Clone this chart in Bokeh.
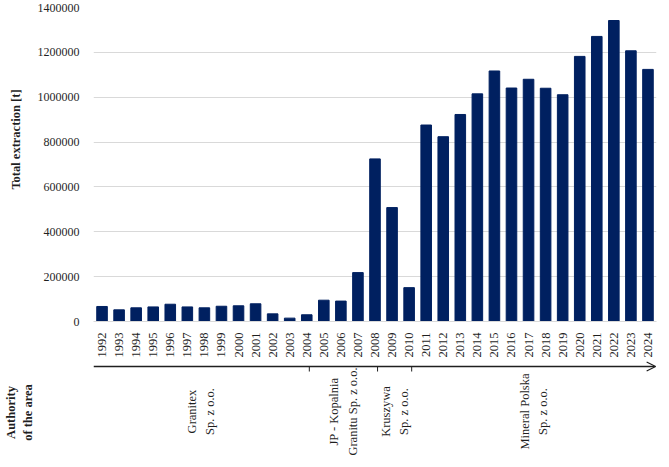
import math
from bokeh.plotting import figure
from bokeh.models import (FactorRange, Range1d, FixedTicker, NumeralTickFormatter,
                          Arrow, OpenHead)
from bokeh.layouts import column, row
from bokeh.core.properties import value
from bokeh.embed import file_html
from bokeh.resources import INLINE

# ---------------- data ----------------
years = [str(y) for y in range(1992, 2025)]
extraction = [67000, 52000, 61000, 65000, 77000, 65000, 61000, 68000, 70000, 79000,
              34000, 15000, 30000, 95000, 91000, 218000, 725000, 508000, 151000,
              876000, 824000, 923000, 1015000, 1117000, 1041000, 1080000, 1040000,
              1011000, 1182000, 1271000, 1342000, 1207000, 1124000]
y_ticks = [0, 200000, 400000, 600000, 800000, 1000000, 1200000, 1400000]
authorities = ["Granitex\nSp. z o.o.",
               "JP - Kopalnia\nGranitu Sp. z o.o.",
               "Kruszywa\nSp. z o.o.",
               "Mineral Polska\nSp. z o.o."]
boundary_years = ["2004", "2008", "2010"]
y_title = "Total extraction [t]"
band_title = "Authority\nof the area"

# ---------------- layout / styling ----------------
FONT = "Liberation Serif"
BAR = "#002060"
TXT = "#1f1f1f"
GRID = "#d9d9d9"
TOTAL_W, TOTAL_H = 659, 457
LW = 34                      # left title strip
W = TOTAL_W - LW
LEFT, RIGHT = 53, 3
H1, TOP1, BOTTOM1 = 360, 7, 38
H2 = TOTAL_H - H1

x_range = FactorRange(factors=years, range_padding=0)

p1 = figure(width=W, height=H1, x_range=x_range, y_range=Range1d(0, 1400000),
            output_backend="svg", toolbar_location=None,
            min_border_left=LEFT, min_border_right=RIGHT,
            min_border_top=TOP1, min_border_bottom=BOTTOM1)
p1.vbar(x=years, top=extraction, width=0.62, color=BAR)

p1.outline_line_color = None
p1.xgrid.grid_line_color = None
p1.ygrid.grid_line_color = GRID
p1.ygrid.ticker = FixedTicker(ticks=y_ticks)

p1.yaxis.ticker = FixedTicker(ticks=y_ticks)
p1.yaxis.formatter = NumeralTickFormatter(format="0")
p1.yaxis.axis_line_color = None
p1.yaxis.major_tick_line_color = None
p1.yaxis.minor_tick_line_color = None
p1.yaxis.major_label_standoff = 8
p1.yaxis.major_label_text_font = FONT
p1.yaxis.major_label_text_font_size = "12px"
p1.yaxis.major_label_text_color = TXT

p1.xaxis.axis_line_color = GRID
p1.xaxis.major_tick_line_color = None
p1.xaxis.minor_tick_line_color = None
p1.xaxis.major_label_orientation = math.pi / 2
p1.xaxis.major_label_standoff = 5
p1.xaxis.major_label_text_font = FONT
p1.xaxis.major_label_text_font_size = "12.5px"
p1.xaxis.major_label_text_color = TXT

# ---------------- authority band ----------------
p2 = figure(width=W, height=H2, x_range=x_range, y_range=Range1d(H2, 0),
            output_backend="svg", toolbar_location=None,
            x_axis_location=None, y_axis_location=None,
            min_border_left=LEFT, min_border_right=RIGHT,
            min_border_top=0, min_border_bottom=0)
p2.outline_line_color = None
p2.grid.grid_line_color = None

n = len(years)
tick_x = [years.index(b) + 0.5 + 0.15 for b in boundary_years]
bounds = [0] + tick_x + [n]
label_x = [(a + b) / 2 for a, b in zip(bounds[:-1], bounds[1:])]

p2.add_layout(Arrow(end=OpenHead(size=9, line_width=1.2, line_color=TXT),
                    x_start=0, y_start=6, x_end=n - 0.05, y_end=6,
                    line_width=1.3, line_color=TXT))
p2.segment(x0=tick_x, y0=[6] * len(tick_x), x1=tick_x, y1=[11] * len(tick_x),
           line_color=TXT, line_width=1)
p2.text(x=label_x, y=[51] * len(label_x), text=authorities, angle=math.pi / 2,
        text_align="center", text_baseline="middle", text_font=value(FONT),
        text_font_size="12.5px", text_line_height=1.3, text_color=TXT)

# ---------------- left title strip ----------------
pl = figure(width=LW, height=TOTAL_H, x_range=Range1d(0, LW), y_range=Range1d(TOTAL_H, 0),
            output_backend="svg", toolbar_location=None,
            x_axis_location=None, y_axis_location=None,
            min_border_left=0, min_border_right=0, min_border_top=0, min_border_bottom=0)
pl.outline_line_color = None
pl.grid.grid_line_color = None
pl.text(x=[15], y=[139], text=[y_title], angle=math.pi / 2,
        text_align="center", text_baseline="middle", text_font=value(FONT),
        text_font_style="bold", text_font_size="12.5px", text_color=TXT)
pl.text(x=[19], y=[412], text=[band_title], angle=math.pi / 2,
        text_align="center", text_baseline="middle", text_font=value(FONT),
        text_font_style="bold", text_font_size="12.5px", text_line_height=1.15,
        text_color=TXT)

layout = row(pl, column(p1, p2, spacing=0), spacing=0)
open("out.html", "w").write(file_html(layout, INLINE))
